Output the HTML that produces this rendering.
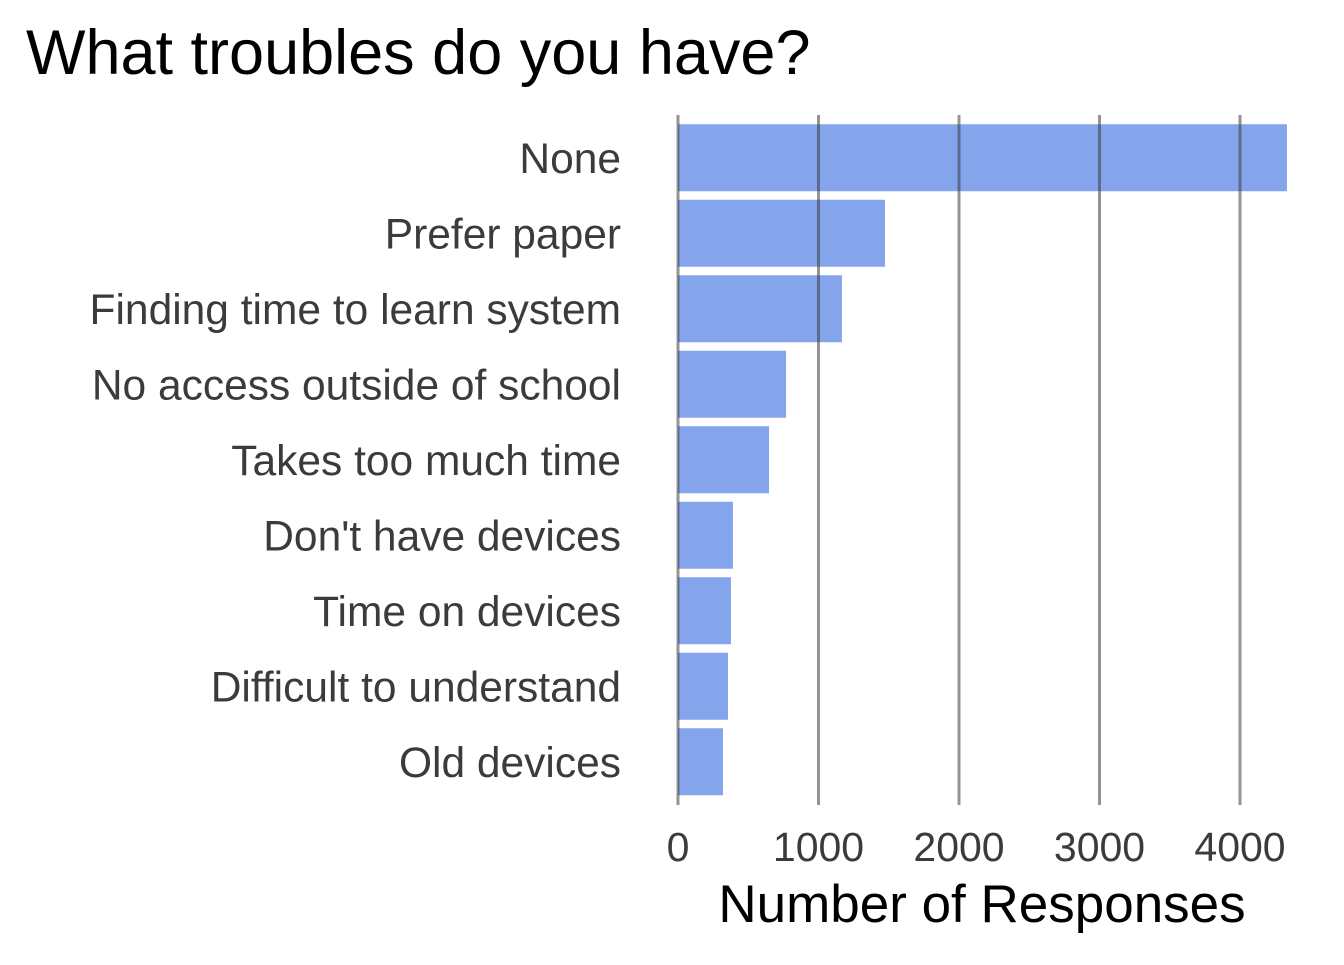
<!DOCTYPE html>
<html><head><meta charset="utf-8"><style>
html,body{margin:0;padding:0;background:#fff;}
svg text{font-family:"Liberation Sans",Arial,sans-serif;}
</style></head><body>
<svg id="chart" width="1344" height="960" xmlns="http://www.w3.org/2000/svg">
<rect width="1344" height="960" fill="#fff"/>
<text x="26" y="74" font-size="63" fill="#000">What troubles do you have?</text>
<g id="bars"></g><g id="grid"></g><g id="labels"></g><g id="ticks"></g>
<text x="982" y="922" font-size="53" text-anchor="middle" fill="#000">Number of Responses</text>
</svg>
<script>
const categories = ["None","Prefer paper","Finding time to learn system","No access outside of school","Takes too much time","Don't have devices","Time on devices","Difficult to understand","Old devices"];
const values = [4334,1473,1167,769,648,391,377,356,320];
const tickValues = [0,1000,2000,3000,4000];
const tickLabels = ["0","1000","2000","3000","4000"];
const NS="http://www.w3.org/2000/svg";
const x0=678, pxPer=140.5/1000;
function xs(v){return x0+v*pxPer;}
const topY=119, step=75.5, bh=67;
function ys(i){return topY+i*step+(step-bh)/2+1;}
const bars=document.getElementById('bars'), grid=document.getElementById('grid'), labels=document.getElementById('labels'), ticks=document.getElementById('ticks');
categories.forEach((c,i)=>{
  const r=document.createElementNS(NS,'rect');
  
  
  r.setAttribute('x',x0);r.setAttribute('y',ys(i));
  r.setAttribute('width',xs(values[i])-x0);r.setAttribute('height',bh);
  r.setAttribute('fill','#84a5ec');
  bars.appendChild(r);
  const t=document.createElementNS(NS,'text');
  
  
  t.setAttribute('x',621);t.setAttribute('y',ys(i)+bh/2+15);
  t.setAttribute('font-size','42.5');t.setAttribute('text-anchor','end');t.setAttribute('fill','#3b3b3b');
  t.textContent=c;labels.appendChild(t);
});
tickValues.forEach((v,i)=>{
  const l=document.createElementNS(NS,'line');
  
  
  l.setAttribute('x1',xs(v));l.setAttribute('x2',xs(v));l.setAttribute('y1',115);l.setAttribute('y2',805);
  l.setAttribute('stroke','rgba(60,60,60,0.55)');l.setAttribute('stroke-width','3');
  grid.appendChild(l);
  const t=document.createElementNS(NS,'text');
  
  
  t.setAttribute('x',xs(v));t.setAttribute('y',861);
  t.setAttribute('font-size','41');t.setAttribute('text-anchor','middle');t.setAttribute('fill','#3b3b3b');
  t.textContent=tickLabels[i];ticks.appendChild(t);
});
</script>
</body></html>
